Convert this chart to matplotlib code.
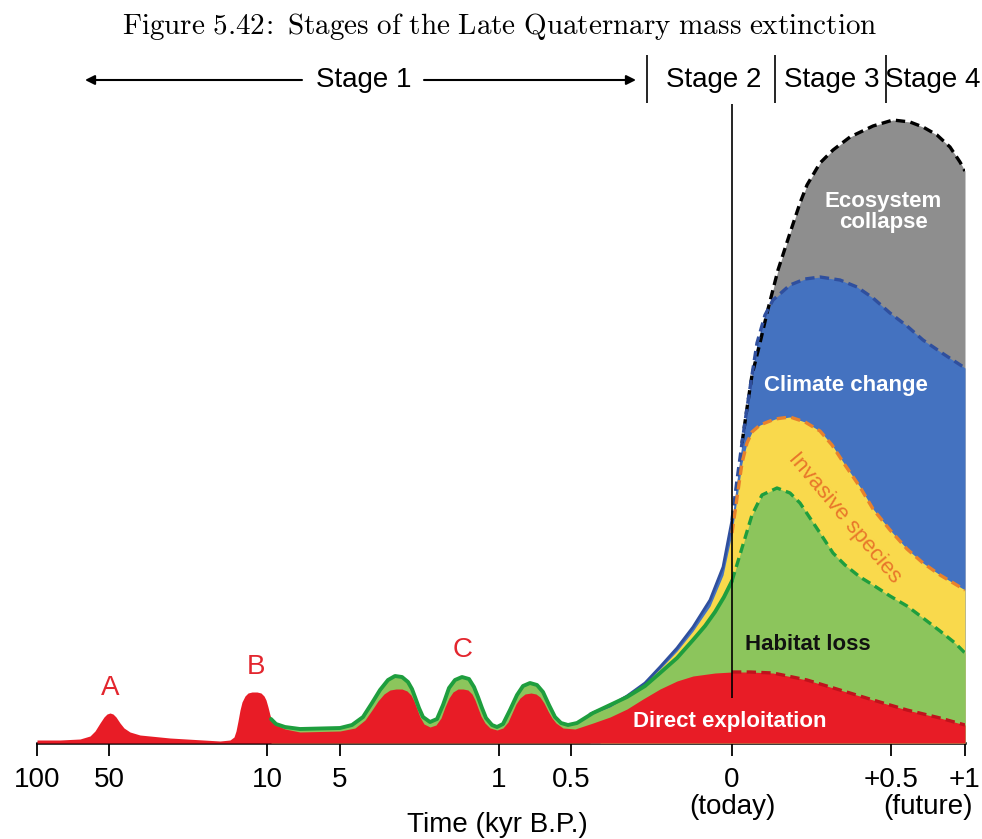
"""Stages of the Late Quaternary mass extinction (stacked driver areas)."""

import matplotlib

matplotlib.use("Agg")
import matplotlib.pyplot as plt  # noqa: E402
import numpy as np  # noqa: E402

plt.rcParams["mathtext.fontset"] = "cm"
SANS = ["Liberation Sans", "DejaVu Sans"]

# x is a warped time axis (position along the drawing); y is relative extinction intensity
TODAY = 732
TICK_POS = [37, 109, 267, 340, 499, 571, 732, 891, 965]
TICK_LABELS = ["100", "50", "10", "5", "1", "0.5", "0", "+0.5", "+1"]

red_x = [37, 60, 80, 90, 95, 100, 104, 107, 110, 113, 116, 120, 124, 130, 140, 170,
         220, 230, 234, 236, 238, 240, 242, 245, 248, 252, 257, 261, 264, 266, 268, 270,
         272, 276, 285, 300, 340, 355, 365, 372, 378, 384, 390, 396, 402, 407, 411, 414,
         417, 420, 424, 430, 436, 441, 445, 449, 453, 458, 463, 468, 472, 475, 478, 481,
         485, 490, 497, 503, 508, 512, 516, 520, 525, 531, 536, 540, 544, 548, 552, 556,
         563, 575, 593, 610, 627, 643, 660, 677, 693, 715, 732, 750, 773, 807, 840, 873,
         907, 940, 965]
red_h = [3, 3, 4, 7, 12, 20, 26, 29, 30, 29, 26, 20, 15, 11, 8, 5,
         2, 3, 6, 12, 22, 33, 41, 47, 50, 51, 51, 50, 47, 43, 36, 28,
         22, 18, 14, 11, 12, 15, 23, 33, 42, 49, 53, 54, 54, 52, 48, 42,
         34, 26, 19, 16, 18, 25, 36, 45, 51, 54, 54, 53, 49, 43, 35, 27,
         20, 15, 13, 15, 21, 30, 39, 45, 49, 50, 49, 46, 40, 32, 25, 20,
         15, 14, 20, 26, 34, 44, 54, 62, 67, 70, 71, 71, 70, 63, 53, 43,
         33, 25, 18]

green_x = [271, 276, 285, 300, 340, 352, 363, 372, 380, 388, 395, 402, 408, 412, 415,
           419, 423, 430, 437, 443, 449, 455, 462, 469, 474, 478, 482, 486, 492, 497,
           503, 510, 517, 523, 530, 537, 543, 549, 555, 561, 568, 577, 593, 610, 627,
           645, 660, 677, 693, 705, 715, 724, 732, 742, 752, 762, 777, 790, 800, 810,
           820, 833, 845, 860, 873, 890, 907, 923, 940, 955, 965]
green_h = [24, 19, 16, 14, 15, 18, 26, 40, 53, 63, 67, 66, 61, 54, 46,
           35, 26, 21, 24, 38, 55, 63, 66, 64, 56, 46, 35, 25, 18, 16,
           19, 33, 48, 57, 60, 58, 51, 38, 26, 20, 18, 20, 30, 38, 46,
           57, 70, 85, 103, 117, 131, 146, 162, 195, 228, 248, 255, 250, 240, 225,
           210, 190, 178, 166, 158, 147, 137, 125, 112, 100, 90]

yellow_x = [600, 627, 645, 660, 677, 693, 710, 723, 732, 737, 742, 747, 752, 760, 775,
            790, 805, 820, 832, 845, 860, 873, 890, 907, 923, 940, 955, 965]
yellow_h = [33, 49, 60, 74, 92, 112, 137, 168, 210, 245, 280, 300, 311, 318, 324,
            326, 321, 312, 298, 278, 256, 234, 213, 194, 180, 168, 159, 153]

blue_x = [590, 610, 627, 645, 660, 677, 693, 710, 723, 732, 737, 742, 747, 752, 757,
          765, 773, 790, 805, 820, 840, 857, 873, 890, 907, 923, 945, 965]
blue_h = [29, 37, 47, 60, 76, 95, 116, 143, 176, 223, 263, 300, 335, 368, 400,
          428, 443, 458, 464, 466, 463, 456, 445, 430, 417, 403, 388, 375]

gray_x = [742, 747, 752, 760, 767, 778, 790, 800, 807, 820, 833, 850, 873, 893, 910,
          923, 937, 950, 960, 965]
gray_h = [300, 335, 368, 400, 430, 473, 510, 540, 558, 580, 593, 606, 617, 623, 621,
          616, 608, 596, 581, 572]

LAYERS = [
    # name, x, h, fill, line colour, solid before today?
    ("gray", gray_x, gray_h, "#8e8e8e", "black", False),
    ("blue", blue_x, blue_h, "#4472c0", "#2f4f9e", True),
    ("yellow", yellow_x, yellow_h, "#f9d94c", "#e8812c", False),
    ("green", green_x, green_h, "#8cc55c", "#1e9e3e", True),
    ("red", red_x, red_h, "#e81c26", "#c0121c", False),
]

DASH = (0, (2.8, 1.6))


def main():
    fig = plt.figure(figsize=(9.82, 8.39), dpi=100)
    ax = fig.add_axes([37 / 982, 96 / 839, 928 / 982, 643 / 839])
    ax.set_xlim(37, 965)
    ax.set_ylim(0, 643)

    for z, (name, x, h, fill, line, solid) in enumerate(LAYERS):
        x = np.array(x)
        h = np.array(h)
        ax.fill_between(x, 0, h, color=fill, lw=0, zorder=2 + z)
        past = x <= TODAY
        future = x >= TODAY
        if solid and past.any():
            ax.plot(x[past], h[past], color=line, lw=2.8 if name == "green" else 2.0,
                    solid_capstyle="round", solid_joinstyle="round", zorder=10 + z)
        ax.plot(x[future], h[future], color=line, lw=2.4, ls=DASH, zorder=10 + z)

    # "today" marker
    ax.vlines(TODAY, 45, 639, color="black", lw=1.2, zorder=20, clip_on=False)

    # axis
    for side in ("top", "right", "left"):
        ax.spines[side].set_visible(False)
    ax.spines["bottom"].set_linewidth(1.8)
    ax.set_yticks([])
    ax.set_xticks(TICK_POS, labels=TICK_LABELS)
    ax.set_xticks([37, 965], minor=True)
    ax.tick_params(axis="x", which="major", direction="out", length=9, width=1.3, pad=8,
                   labelsize=20)
    ax.tick_params(axis="x", which="minor", direction="inout", length=20, width=1.3)
    for lab in ax.get_xticklabels():
        lab.set_family(SANS)
    ax.text(TODAY, -64, "(today)", ha="center", va="center", fontsize=20, family=SANS,
            clip_on=False)
    ax.text(928, -64, "(future)", ha="center", va="center", fontsize=20, family=SANS,
            clip_on=False)
    ax.text(497, -82, "Time (kyr B.P.)", ha="center", va="center", fontsize=20,
            family=SANS, clip_on=False)

    # event letters
    red_txt = "#e3262e"
    for lbl, (px, py) in {"A": (110, 55), "B": (256, 76), "C": (463, 93)}.items():
        ax.text(px, py, lbl, ha="center", va="center", fontsize=20, color=red_txt,
                family=SANS, zorder=30)

    # layer labels
    ax.text(883, 531, "Ecosystem\ncollapse", ha="center", va="center", fontsize=16,
            color="white", weight="bold", family=SANS, linespacing=0.95, zorder=30)
    ax.text(846, 357, "Climate change", ha="center", va="center", fontsize=16,
            color="white", weight="bold", family=SANS, zorder=30)
    ax.text(845, 225, "Invasive species", ha="center", va="center", fontsize=16,
            color="#e8772a", rotation=-50, family=SANS, zorder=30)
    ax.text(808, 98, "Habitat loss", ha="center", va="center", fontsize=16,
            color="#111111", weight="bold", family=SANS, zorder=30)
    ax.text(730, 22, "Direct exploitation", ha="center", va="center", fontsize=16,
            color="white", weight="bold", family=SANS, zorder=30)

    # stage bar
    sy = 663
    ax.text(364, sy, "Stage 1", ha="center", va="center", fontsize=20, family=SANS,
            clip_on=False)
    arrow = dict(arrowstyle="-|>", color="black", lw=1.5, mutation_scale=14,
                 shrinkA=0, shrinkB=0)
    ax.annotate("", xy=(85, sy), xytext=(302, sy), annotation_clip=False, arrowprops=arrow)
    ax.annotate("", xy=(636, sy), xytext=(424, sy), annotation_clip=False, arrowprops=arrow)
    ax.vlines([647, 775, 886], 640, 688, color="black", lw=1.2, clip_on=False)
    for lbl, px in (("Stage 2", 714), ("Stage 3", 832), ("Stage 4", 933)):
        ax.text(px, sy, lbl, ha="center", va="center", fontsize=20, family=SANS,
                clip_on=False)

    fig.text(0.509, 1 - 27 / 839,
             r"$\mathrm{Figure\ 5.42\!:\ Stages\ of\ the\ Late\ Quaternary\ mass\ extinction}$",
             ha="center", va="center", fontsize=21)

    fig.savefig("out.png", dpi=100)
    plt.close(fig)


if __name__ == "__main__":
    main()
